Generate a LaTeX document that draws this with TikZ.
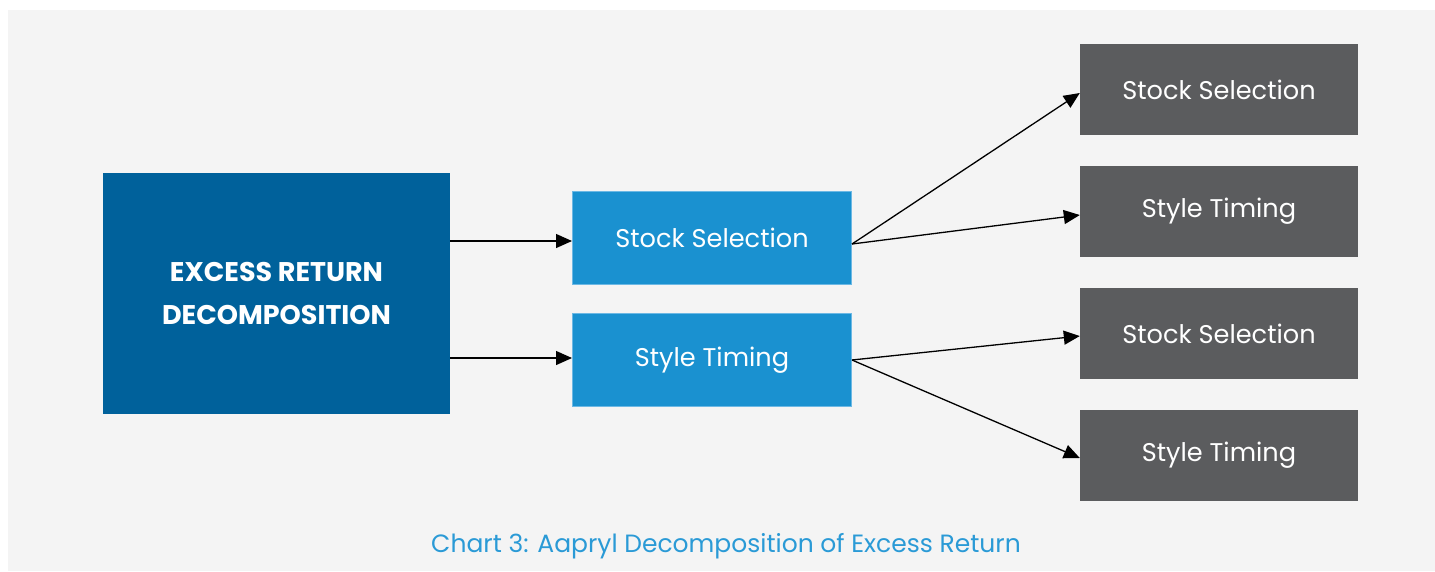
\documentclass[tikz,border=0pt]{standalone}
\usepackage{fontspec}
\setmainfont{Poppins}
\usetikzlibrary{arrows.meta}
\definecolor{bgc}{HTML}{F4F4F4}
\definecolor{mainc}{HTML}{00619B}
\definecolor{midc}{HTML}{1A91D0}
\definecolor{midb}{HTML}{6CB8E4}
\definecolor{grayc}{HTML}{5B5C5E}
\definecolor{capc}{HTML}{2A9AD6}
\tikzset{
  px/.style={x=1pt,y=-1pt},
  mainbox/.style={fill=mainc,draw=none,minimum width=347pt,minimum height=241pt,text=white,font=\fontsize{27}{43}\selectfont\bfseries,align=center,inner sep=0pt},
  midbox/.style={fill=midc,draw=midb,line width=1pt,minimum width=279pt,minimum height=93pt,text=white,font=\fontsize{25.6}{30}\selectfont,inner sep=0pt},
  leafbox/.style={fill=grayc,draw=none,minimum width=278pt,minimum height=91pt,text=white,font=\fontsize{25.6}{30}\selectfont,inner sep=0pt},
  conn/.style={draw=black,line width=1.3pt,-{Triangle[length=16pt,width=14pt]}}
}
\begin{document}
\begin{tikzpicture}[px]
\useasboundingbox (0,0) rectangle (1435,571);
\fill[white] (0,0) rectangle (1435,571);
\fill[bgc] (8,10) rectangle (1435,571);
\node[mainbox] (main) at (276.5,293.5) {EXCESS RETURN\\DECOMPOSITION};
\node[midbox] (ss) at (712,238) {Stock Selection};
\node[midbox] (st) at (712,360) {Style Timing};
\node[leafbox] (l1) at (1219,89.5) {Stock Selection};
\node[leafbox] (l2) at (1219,211.5) {Style Timing};
\node[leafbox] (l3) at (1219,333.5) {Stock Selection};
\node[leafbox] (l4) at (1219,455.5) {Style Timing};
\coordinate (a1) at (main.east |- 0,241);
\coordinate (a2) at (main.east |- 0,358);
\draw[conn] (a1) -- (ss.west |- a1);
\draw[conn] (a2) -- (st.west |- a2);
\coordinate (s1) at (ss.east |- 0,244);
\coordinate (s2) at (st.east |- 0,360);
\draw[conn] (s1) -- (l1.west |- 0,93);
\draw[conn] (s1) -- (l2.west |- 0,215);
\draw[conn] (s2) -- (l3.west |- 0,336);
\draw[conn] (s2) -- (l4.west |- 0,458);
\node[text=capc,font=\fontsize{25}{30}\selectfont] (cap) at (726,546) {Chart 3: Aapryl Decomposition of Excess Return};
\end{tikzpicture}
\end{document}
